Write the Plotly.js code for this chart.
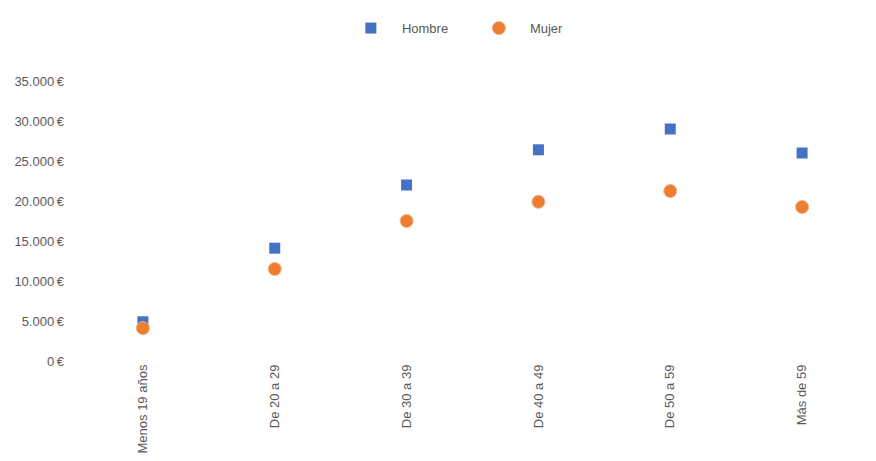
<!DOCTYPE html>
<html><head><meta charset="utf-8">
<script src="https://cdn.plot.ly/plotly-3.0.1.min.js"></script>
<style>html,body{margin:0;padding:0;background:#fff}#c{width:876px;height:461px}</style>
</head><body><div id="c"></div>
<script>
const categories = ["Menos 19 años","De 20 a 29","De 30 a 39","De 40 a 49","De 50 a 59","Más de 59"];
const hombre = [4900, 14100, 22000, 26400, 29000, 26000];
const mujer = [4100, 11500, 17500, 19900, 21250, 19250];
const yTicks = [0,5000,10000,15000,20000,25000,30000,35000];
const yTickText = ["0\u2009€","5.000\u2009€","10.000\u2009€","15.000\u2009€","20.000\u2009€","25.000\u2009€","30.000\u2009€","35.000\u2009€"];

const data = [
  {x: categories, y: hombre, name: 'Hombre', type: 'scatter', mode: 'markers',
   marker: {symbol: 'square', size: 11, color: '#4472C4'}},
  {x: categories, y: mujer, name: 'Mujer', type: 'scatter', mode: 'markers',
   marker: {symbol: 'circle', size: 13, color: '#ED7D31', line: {color: '#F4B183', width: 1}}}
];
const layout = {
  width: 876, height: 461,
  margin: {l: 77, r: 8, t: 81, b: 100},
  paper_bgcolor: '#fff', plot_bgcolor: '#fff',
  font: {family: 'Liberation Sans, Arial, sans-serif', size: 13, color: '#595959'},
  showlegend: true,
  legend: {orientation: 'h', yref: 'container', xref: 'container', x: 0.388, xanchor: 'left',
           y: 0.939, yanchor: 'middle', font: {size: 13, color: '#595959'}, itemwidth: 52,
           entrywidth: 61, entrywidthmode: 'pixels'},
  xaxis: {type: 'category', range: [-0.5, 5.5], tickangle: -90, showgrid: false, zeroline: false,
          showline: false, ticks: '', tickfont: {size: 13, color: '#595959'}, automargin: false},
  yaxis: {range: [0, 35000], tickvals: yTicks, ticktext: yTickText, showgrid: false,
          zeroline: false, showline: false, ticks: '', ticklabelstandoff: 12, automargin: false,
          tickfont: {size: 13, color: '#595959'}}
};
Plotly.newPlot('c', data, layout, {displayModeBar: false});
</script></body></html>
